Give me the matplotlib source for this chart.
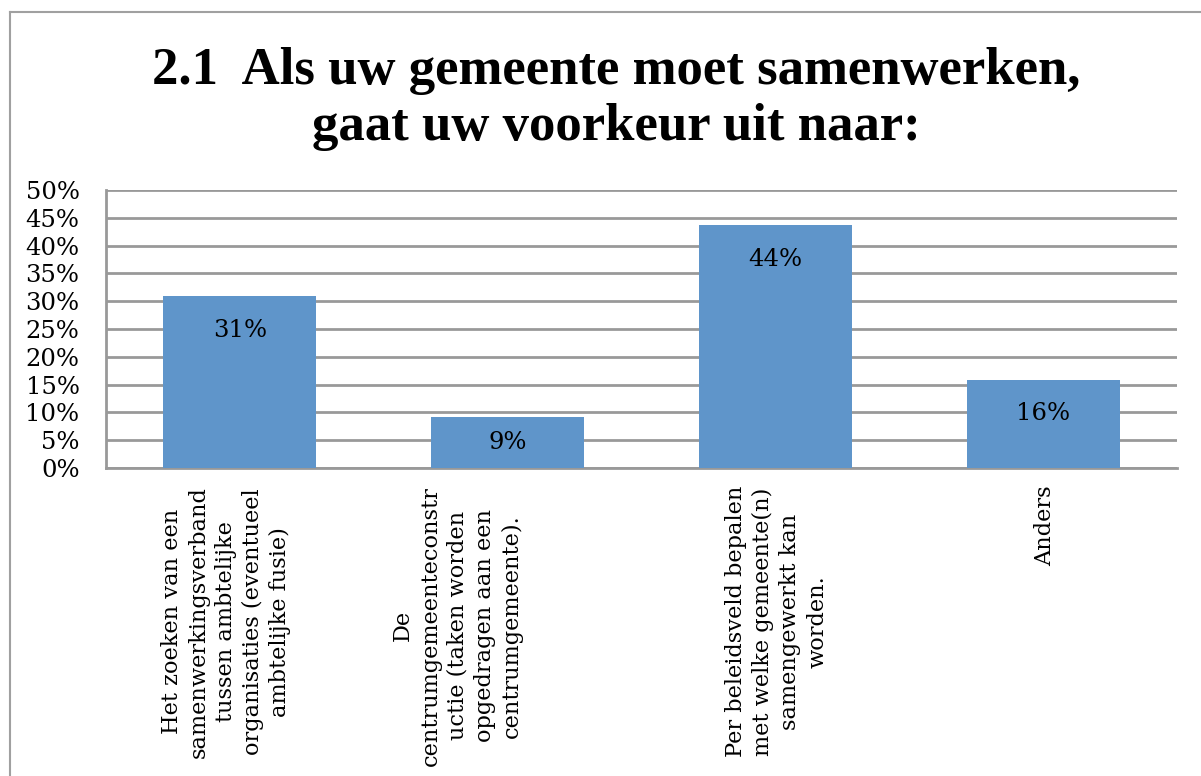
import matplotlib
matplotlib.use("Agg")
import matplotlib.pyplot as plt
from matplotlib.lines import Line2D
import numpy as np

categories = [
    "Het zoeken van een\nsamenwerkingsverband\ntussen ambtelijke\norganisaties (eventueel\nambtelijke fusie)",
    "De\ncentrumgemeenteconstr\nuctie (taken worden\nopgedragen aan een\ncentrumgemeente).",
    "Per beleidsveld bepalen\nmet welke gemeente(n)\nsamengewerkt kan\nworden.",
    "Anders",
]
values = [0.309, 0.091, 0.437, 0.159]
yticks = [0, 0.05, 0.10, 0.15, 0.20, 0.25, 0.30, 0.35, 0.40, 0.45, 0.50]
title_lines = ["2.1  Als uw gemeente moet samenwerken,", "gaat uw voorkeur uit naar:"]

W, H = 1201, 776
fig = plt.figure(figsize=(W / 100, H / 100), dpi=100)
ax = fig.add_axes([106 / W, 1 - 468 / H, (1177 - 106) / W, (468 - 190) / H])

serif = ["DejaVu Serif"]
x = np.arange(len(values))
ax.bar(x, values, width=0.571, color="#5F95CA", zorder=3)
ax.set_xlim(-0.5, len(values) - 0.5)
ax.set_ylim(0, 0.5)
ax.set_yticks(yticks)
ax.set_yticklabels([f"{v*100:.0f}%" for v in yticks], family=serif, fontsize=17.5)
ax.yaxis.grid(True, color="#999999", linewidth=2, zorder=0)
ax.tick_params(axis="y", length=0, pad=19)
ax.tick_params(axis="x", length=0)
ax.set_xticks([])
for s in ["top", "right"]:
    ax.spines[s].set_visible(False)
for s in ["left", "bottom"]:
    ax.spines[s].set_color("#999999")
    ax.spines[s].set_linewidth(2)

# data labels: inside end, but kept within the bar
inset = 0.0612
for xi, v in zip(x, values):
    ylab = max(v - inset, v / 2)
    ax.text(xi, ylab, f"{v*100:.0f}%", ha="center", va="center",
            family=serif, fontsize=17.5, zorder=4)

label_offsets = [-0.052, -0.187, 0.005, 0.007]
for xi, lab, off in zip(x, categories, label_offsets):
    ax.text(xi + off, -0.032, lab, rotation=90, ha="center", va="top",
            multialignment="center", family=serif, fontsize=16.2, linespacing=1.3)

for txt, yb in zip(title_lines, [84, 140]):
    fig.text(616 / W, 1 - yb / H, txt, ha="center", va="baseline", family=["Liberation Serif"],
             fontweight="bold", fontsize=38)

fig.add_artist(Line2D([10 / W, 10 / W], [0, 1 - 12 / H], transform=fig.transFigure,
                      color="#a0a0a0", linewidth=1.5))
fig.add_artist(Line2D([10 / W, 1], [1 - 12 / H, 1 - 12 / H], transform=fig.transFigure,
                      color="#a0a0a0", linewidth=1.5))

fig.savefig("out.png", dpi=100)
